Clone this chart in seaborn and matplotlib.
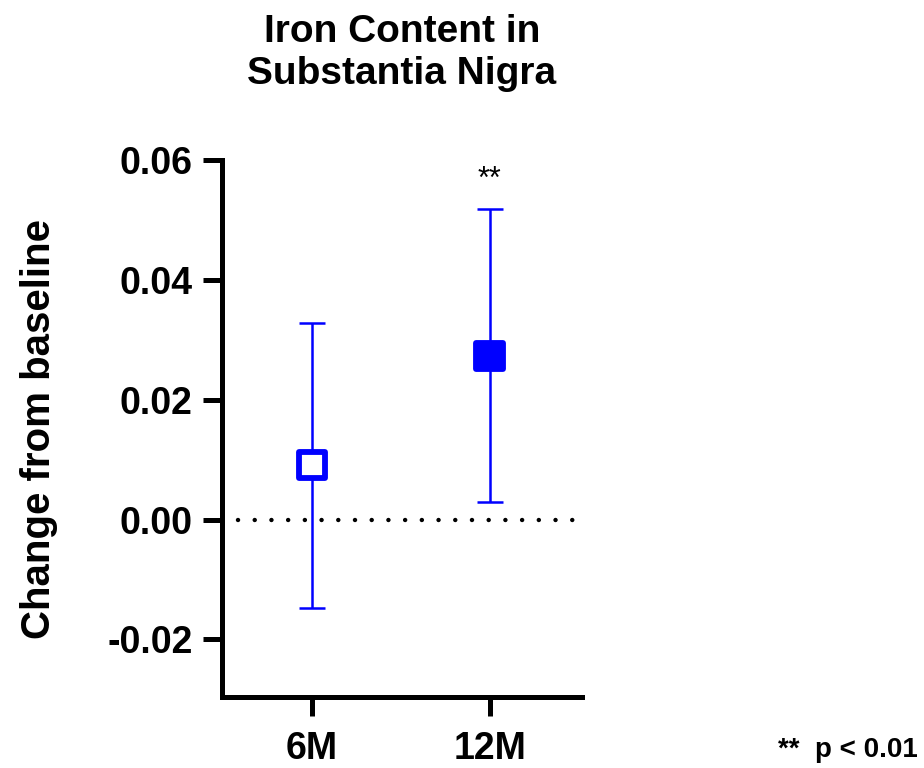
import numpy as np
import pandas as pd
import seaborn as sns
from matplotlib import pyplot as plt

# values
groups = ['6M', '12M']
means = [0.0091, 0.0273]
err_low = [-0.0148, 0.0030]
err_high = [0.0328, 0.0518]
fills = ['white', 'blue']

df = pd.DataFrame({'x': [0, 1], 'group': groups, 'mean': means,
                   'lo': err_low, 'hi': err_high})

sns.set_theme(style='ticks')
plt.rcParams['font.family'] = ['Liberation Sans', 'DejaVu Sans']
plt.rcParams['font.weight'] = 'bold'
plt.rcParams['text.color'] = 'black'
plt.rcParams['axes.labelcolor'] = 'black'

fig = plt.figure(figsize=(9.24, 7.68), dpi=100)
ax = fig.add_axes([0.2403, 0.0924, 0.3896, 0.6993])

# zero reference line (dotted)
ax.plot([-0.415, 1.49], [0, 0], color='black', lw=3.2,
        linestyle=(0, (0.01, 3.75)), dash_capstyle='round', zorder=1)

# error bars
ax.errorbar(df['x'], df['mean'],
            yerr=[df['mean'] - df['lo'], df['hi'] - df['mean']],
            fmt='none', ecolor='blue', elinewidth=1.8, capsize=9.7,
            capthick=1.8, zorder=2)

# markers
sns.scatterplot(data=df, x='x', y='mean', hue='group', palette=fills,
                marker='s', s=19 ** 2, edgecolor='blue', linewidth=4.2,
                legend=False, ax=ax, zorder=3)

ax.text(1, 0.0553, '**', ha='center', va='baseline', fontsize=22,
        fontweight='normal', color='black')

ax.set_xlim(-0.506, 1.52)
ax.set_ylim(-0.0296, 0.06)
ax.set_xticks([0, 1])
ax.set_xticklabels(groups)
ax.set_yticks([-0.02, 0.0, 0.02, 0.04, 0.06])
ax.set_yticklabels(['-0.02', '0.00', '0.02', '0.04', '0.06'])
ax.set_xlabel('')
ax.set_ylabel('Change from baseline', fontsize=29, fontweight='bold')
ax.yaxis.set_label_coords(-0.455, 0.5)

sns.despine(ax=ax)
for side in ['left', 'bottom']:
    ax.spines[side].set_linewidth(3.6)
    ax.spines[side].set_color('black')
ax.tick_params(axis='both', length=14, width=3.6, color='black',
               labelsize=27, labelcolor='black')
ax.tick_params(axis='y', pad=7)
ax.tick_params(axis='x', pad=10.5)
for lab in ax.get_xticklabels() + ax.get_yticklabels():
    lab.set_fontweight('bold')

ax.set_title('Iron Content in\nSubstantia Nigra', fontsize=28,
             fontweight='bold', pad=55, color='black')

fig.text(778 / 924, 0.0143, '**  p < 0.01', ha='left', va='baseline',
         fontsize=20, fontweight='bold', color='black')

plt.savefig('out.png', dpi=100)
